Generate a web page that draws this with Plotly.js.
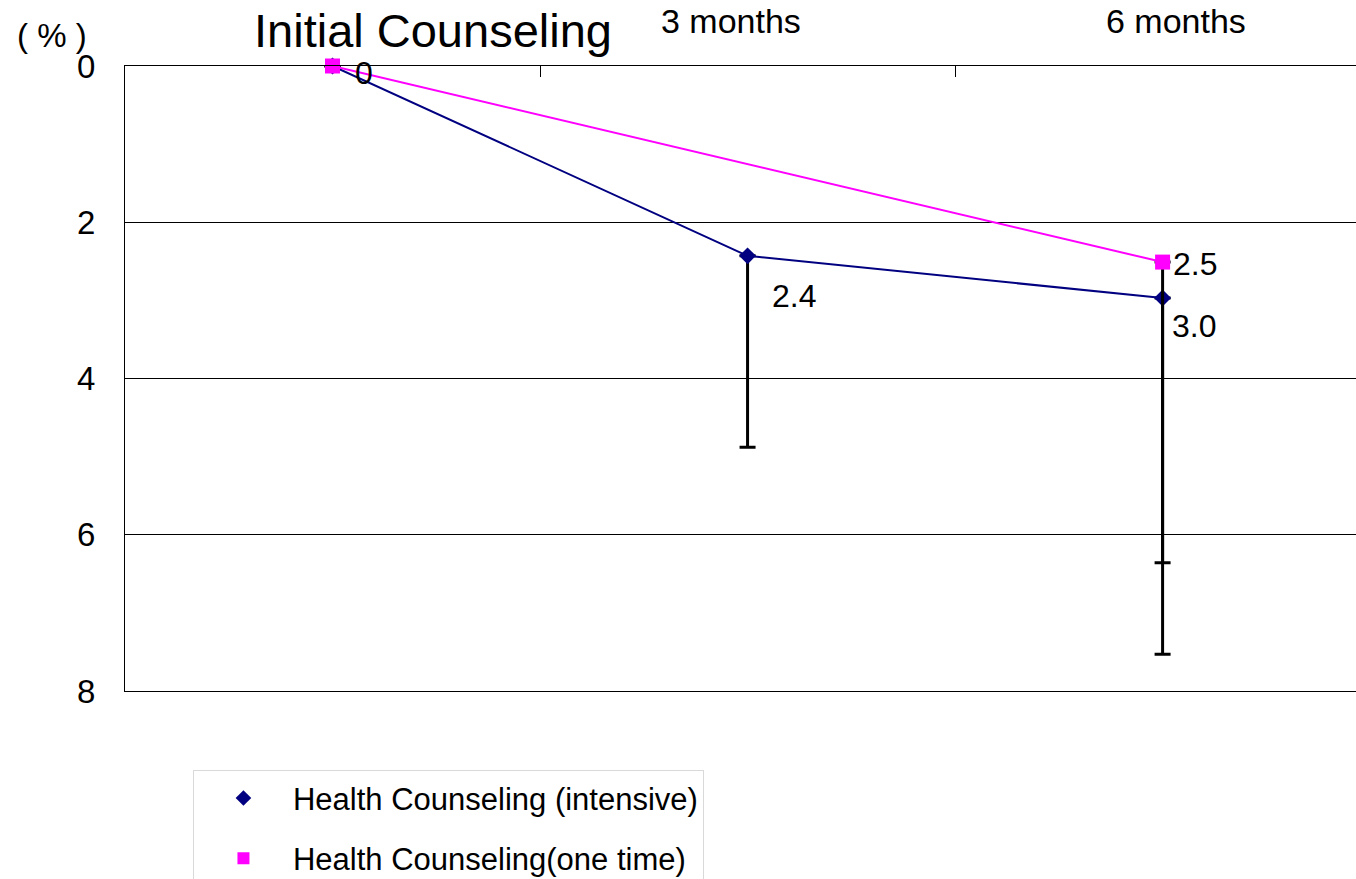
<!DOCTYPE html>
<html>
<head>
<meta charset="utf-8">
<script src="https://cdn.plot.ly/plotly-3.0.1.min.js"></script>
<style>
  body { margin: 0; background: #ffffff; }
  #chart { width: 1356px; height: 879px; }
</style>
</head>
<body>
<div id="chart"></div>
<script>
// categories along the top axis
let periods = ['Initial Counseling', '3 months', '6 months'];

// intensive counseling (navy diamonds)
let intensive_x = ['Initial Counseling', '3 months', '6 months'];
let intensive_y = [0, 2.43, 2.97];
let intensive_err = [0, 2.45, 4.56];
let intensive_labels = ['0', '2.4', '3.0'];

// one time counseling (magenta squares)
let onetime_x = ['Initial Counseling', '6 months'];
let onetime_y = [0, 2.51];
let onetime_err = [0, 3.85];
let onetime_labels = ['', '2.5'];

let font_family = 'Liberation Sans, Arial, sans-serif';

let trace_intensive = {
  type: 'scatter',
  mode: 'lines+markers',
  x: intensive_x,
  y: intensive_y,
  showlegend: false,
  cliponaxis: false,
  line: {color: '#000080', width: 2},
  marker: {symbol: 'diamond', size: 13, color: '#000080'},
  error_y: {type: 'data', symmetric: false, array: intensive_err, arrayminus: [0, 0, 0],
            color: '#000000', thickness: 3, width: 8}
};

let trace_onetime = {
  type: 'scatter',
  mode: 'lines+markers',
  x: onetime_x,
  y: onetime_y,
  showlegend: false,
  cliponaxis: false,
  line: {color: '#FF00FF', width: 2},
  marker: {symbol: 'square', size: 15, color: '#FF00FF'},
  error_y: {type: 'data', symmetric: false, array: onetime_err, arrayminus: [0, 0],
            color: '#000000', thickness: 3, width: 8}
};

// marker-only entries for the legend
let legend_intensive = {
  type: 'scatter', mode: 'markers', x: [null], y: [null],
  name: 'Health Counseling (intensive)', legendgroup: 'a',
  marker: {symbol: 'diamond', size: 13, color: '#000080'}
};
let legend_onetime = {
  type: 'scatter', mode: 'markers', x: [null], y: [null],
  name: 'Health Counseling(one time)', legendgroup: 'b',
  marker: {symbol: 'square', size: 15, color: '#FF00FF'}
};

// category labels drawn above the axis, each a bit off centre like the original
let label_shift = [100, -17, 13];
let label_up = [36, 45, 45];
let label_size = [47, 34, 34];

let annotations = [];
periods.forEach(function (p, i) {
  annotations.push({
    xref: 'x', yref: 'paper', x: p, y: 1,
    xanchor: 'center', yanchor: 'middle',
    xshift: label_shift[i], yshift: label_up[i],
    text: p, showarrow: false,
    font: {family: font_family, size: label_size[i], color: '#000000'}
  });
});

// value labels next to the points
let intensive_dx = [20, 22, 7];
let intensive_dy = [-7, -40, -28];
intensive_x.forEach(function (c, i) {
  if (!intensive_labels[i]) return;
  annotations.push({
    xref: 'x', yref: 'y', x: c, y: intensive_y[i],
    xanchor: 'left', yanchor: 'middle',
    xshift: intensive_dx[i], yshift: intensive_dy[i],
    text: intensive_labels[i], showarrow: false,
    font: {family: font_family, size: 32, color: '#000000'}
  });
});
let onetime_dx = [0, 8];
let onetime_dy = [0, -2];
onetime_x.forEach(function (c, i) {
  if (!onetime_labels[i]) return;
  annotations.push({
    xref: 'x', yref: 'y', x: c, y: onetime_y[i],
    xanchor: 'left', yanchor: 'middle',
    xshift: onetime_dx[i], yshift: onetime_dy[i],
    text: onetime_labels[i], showarrow: false,
    font: {family: font_family, size: 32, color: '#000000'}
  });
});

// unit label
annotations.push({
  xref: 'paper', yref: 'paper', x: 0, y: 1,
  xanchor: 'right', yanchor: 'middle', xshift: -36, yshift: 31,
  text: '( % )', showarrow: false,
  font: {family: font_family, size: 33, color: '#000000'}
});

let layout = {
  width: 1356,
  height: 879,
  margin: {l: 125, r: 0, t: 66, b: 188, autoexpand: false},
  paper_bgcolor: '#ffffff',
  plot_bgcolor: '#ffffff',
  font: {family: font_family, color: '#000000'},
  xaxis: {
    type: 'category',
    categoryarray: periods,
    range: [-0.5, 2.466],
    side: 'top',
    showticklabels: false,
    ticks: 'inside',
    ticklen: 11,
    tickwidth: 1,
    tickcolor: '#000000',
    tickson: 'boundaries',
    showgrid: false,
    zeroline: false,
    showline: true,
    mirror: true,
    linecolor: '#000000',
    linewidth: 1
  },
  yaxis: {
    range: [8, 0],
    dtick: 2,
    tick0: 0,
    ticks: '',
    ticklabelstandoff: 22,
    tickfont: {family: font_family, size: 33, color: '#000000'},
    showgrid: true,
    gridcolor: '#000000',
    gridwidth: 1,
    zeroline: false,
    showline: true,
    linecolor: '#000000',
    linewidth: 1
  },
  showlegend: true,
  legend: {
    x: 0.0552, y: -0.127, xanchor: 'left', yanchor: 'top',
    xref: 'paper', yref: 'paper',
    bgcolor: '#ffffff',
    bordercolor: '#d9d9d9',
    borderwidth: 1,
    font: {family: font_family, size: 31, color: '#000000'},
    itemsizing: 'constant',
    itemwidth: 89,
    tracegroupgap: 17
  },
  annotations: annotations
};

Plotly.newPlot('chart', [trace_intensive, trace_onetime, legend_intensive, legend_onetime], layout, {displayModeBar: false});
</script>
</body>
</html>
